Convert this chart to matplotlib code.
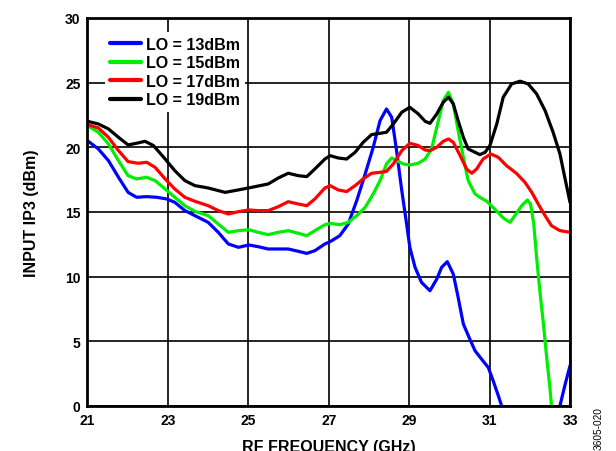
import numpy as np
import matplotlib.pyplot as plt

plt.rcParams['font.family'] = ['Liberation Sans', 'DejaVu Sans']
plt.rcParams['font.weight'] = 'bold'

# Input IP3 (dBm) vs RF frequency (GHz) for four LO drive levels
freq_lo13 = [21.00, 21.27, 21.52, 21.77, 22.01, 22.22, 22.47, 22.72, 22.97, 23.17, 23.42, 23.67,
             24.00, 24.25, 24.50, 24.75, 25.01, 25.24, 25.49, 25.74, 25.99, 26.24, 26.45, 26.65,
             26.90, 27.03, 27.27, 27.48, 27.69, 27.90, 28.10, 28.27, 28.43, 28.56, 28.68, 28.81,
             28.93, 29.01, 29.14, 29.30, 29.51, 29.68, 29.80, 29.94, 30.09, 30.21, 30.34, 30.50,
             30.63, 30.79, 30.96, 31.08, 31.21, 31.29, np.nan, 32.74, 32.86, 32.99]
ip3_lo13 = [20.51, 19.87, 18.97, 17.68, 16.51, 16.13, 16.18, 16.13, 16.00, 15.74, 15.10, 14.71,
            14.19, 13.42, 12.52, 12.26, 12.44, 12.31, 12.13, 12.13, 12.13, 11.95, 11.79, 12.00,
            12.52, 12.70, 13.16, 14.06, 15.87, 17.93, 20.00, 22.06, 22.96, 22.32, 19.74, 16.64,
            14.06, 12.26, 10.71, 9.55, 8.90, 9.81, 10.71, 11.15, 10.19, 8.39, 6.32, 5.16,
            4.26, 3.62, 2.96, 1.94, 0.77, 0.00, np.nan, 0.00, 1.55, 3.10]

freq_lo15 = [21.00, 21.27, 21.52, 21.77, 22.01, 22.22, 22.47, 22.68, 22.93, 23.17, 23.42, 23.67,
             24.00, 24.25, 24.50, 24.75, 25.01, 25.24, 25.49, 25.74, 25.99, 26.24, 26.45, 26.65,
             26.90, 27.03, 27.27, 27.48, 27.69, 27.90, 28.10, 28.27, 28.43, 28.56, 28.68, 28.85,
             29.01, 29.22, 29.39, 29.55, 29.68, 29.84, 29.97, 30.09, 30.21, 30.34, 30.46, 30.63,
             30.75, 30.92, 31.12, 31.33, 31.50, 31.62, 31.79, 31.93, 32.01, 32.09, 32.16, 32.24,
             32.33, 32.41, 32.49, 32.53]
ip3_lo15 = [21.67, 21.16, 20.26, 18.97, 17.80, 17.55, 17.68, 17.42, 16.77, 16.13, 15.48, 15.04,
            14.71, 14.06, 13.42, 13.55, 13.62, 13.42, 13.24, 13.42, 13.55, 13.34, 13.16, 13.55,
            14.01, 14.11, 14.01, 14.19, 14.71, 15.35, 16.39, 17.42, 18.71, 19.17, 18.96, 18.71,
            18.63, 18.76, 19.09, 19.87, 21.55, 23.61, 24.25, 23.35, 21.29, 19.22, 17.42, 16.39,
            16.13, 15.82, 15.22, 14.53, 14.19, 14.71, 15.48, 15.92, 15.61, 14.06, 11.48, 8.90,
            6.32, 3.74, 1.42, 0.00]

freq_lo17 = [21.00, 21.27, 21.52, 21.77, 22.01, 22.26, 22.47, 22.68, 22.93, 23.17, 23.42, 23.67,
             24.00, 24.25, 24.50, 24.75, 25.01, 25.24, 25.49, 25.74, 25.99, 26.24, 26.45, 26.65,
             26.90, 27.03, 27.23, 27.44, 27.65, 27.85, 28.06, 28.27, 28.43, 28.60, 28.81, 29.01,
             29.22, 29.39, 29.51, 29.68, 29.84, 29.97, 30.09, 30.26, 30.42, 30.55, 30.67, 30.83,
             31.02, 31.21, 31.41, 31.66, 31.87, 32.04, 32.20, 32.37, 32.53, 32.74, 32.99]
ip3_lo17 = [21.75, 21.49, 20.77, 19.74, 18.89, 18.76, 18.84, 18.45, 17.55, 16.77, 16.13, 15.82,
            15.48, 15.10, 14.84, 15.02, 15.15, 15.10, 15.10, 15.40, 15.79, 15.61, 15.48, 16.00,
            16.85, 17.03, 16.70, 16.57, 17.03, 17.55, 17.99, 18.06, 18.14, 18.71, 19.74, 20.31,
            20.13, 19.79, 19.74, 20.00, 20.46, 20.64, 20.38, 19.35, 18.32, 17.99, 18.32, 19.09,
            19.48, 19.22, 18.58, 17.98, 17.29, 16.51, 15.61, 14.71, 13.93, 13.55, 13.42]

freq_lo19 = [21.00, 21.27, 21.52, 21.77, 22.01, 22.22, 22.43, 22.64, 22.93, 23.17, 23.42, 23.67,
             24.00, 24.42, 24.75, 25.08, 25.49, 25.74, 25.99, 26.24, 26.45, 26.65, 26.90, 27.03,
             27.23, 27.44, 27.65, 27.85, 28.06, 28.27, 28.43, 28.60, 28.81, 29.01, 29.22, 29.39,
             29.51, 29.68, 29.84, 29.97, 30.09, 30.21, 30.34, 30.46, 30.63, 30.75, 30.88, 31.00,
             31.17, 31.33, 31.54, 31.75, 31.95, 32.16, 32.37, 32.57, 32.74, 32.86, 32.99]
ip3_lo19 = [22.01, 21.80, 21.42, 20.77, 20.18, 20.31, 20.46, 20.13, 19.09, 18.19, 17.42, 17.03,
            16.85, 16.51, 16.70, 16.90, 17.16, 17.62, 17.99, 17.80, 17.73, 18.32, 19.09, 19.35,
            19.17, 19.09, 19.61, 20.38, 20.98, 21.08, 21.16, 21.80, 22.71, 23.09, 22.58, 22.01,
            21.85, 22.58, 23.48, 23.87, 23.35, 22.06, 20.77, 19.87, 19.61, 19.43, 19.61, 20.13,
            21.80, 23.87, 24.90, 25.11, 24.90, 24.13, 22.84, 21.16, 19.48, 17.67, 15.74]

series = [
    ('LO = 13dBm', freq_lo13, ip3_lo13, '#0000ff'),
    ('LO = 15dBm', freq_lo15, ip3_lo15, '#00ee00'),
    ('LO = 17dBm', freq_lo17, ip3_lo17, '#ff0000'),
    ('LO = 19dBm', freq_lo19, ip3_lo19, '#000000'),
]

fig = plt.figure(figsize=(6.16, 4.52), dpi=100)
ax = fig.add_axes([0.142, 0.100, 0.784, 0.858])

for label, f, v, c in series:
    ax.plot(f, v, color=c, lw=2.3, label=label,
            solid_joinstyle='round', solid_capstyle='round')

ax.set_xlim(21, 33)
ax.set_ylim(0, 30)
ax.set_xticks([21, 23, 25, 27, 29, 31, 33])
ax.set_yticks([0, 5, 10, 15, 20, 25, 30])
ax.grid(True, color='black', lw=1.2)
ax.set_axisbelow(True)
ax.tick_params(length=0, labelsize=10, pad=5)
for lab in ax.get_xticklabels() + ax.get_yticklabels():
    lab.set_fontweight('bold')
for sp in ax.spines.values():
    sp.set_linewidth(2)

ax.set_ylabel('INPUT IP3 (dBm)', fontsize=11.5, fontweight='bold', labelpad=19)
ax.set_xlabel('RF FREQUENCY (GHz)', fontsize=11.5, fontweight='bold', labelpad=9)

leg = ax.legend(loc='upper left', bbox_to_anchor=(0.02, 0.985), frameon=True,
                fancybox=False, framealpha=1, edgecolor='none', facecolor='white',
                prop={'size': 11.5, 'weight': 'bold'}, handlelength=1.95,
                handletextpad=0.3, labelspacing=0.22, borderpad=0.3)
for line in leg.get_lines():
    line.set_linewidth(3)

fig.text(0.971, 0.052, '3605-020', rotation=90, fontsize=7.3, fontweight='normal',
         ha='center', va='center')

fig.savefig('out.png', dpi=100)
